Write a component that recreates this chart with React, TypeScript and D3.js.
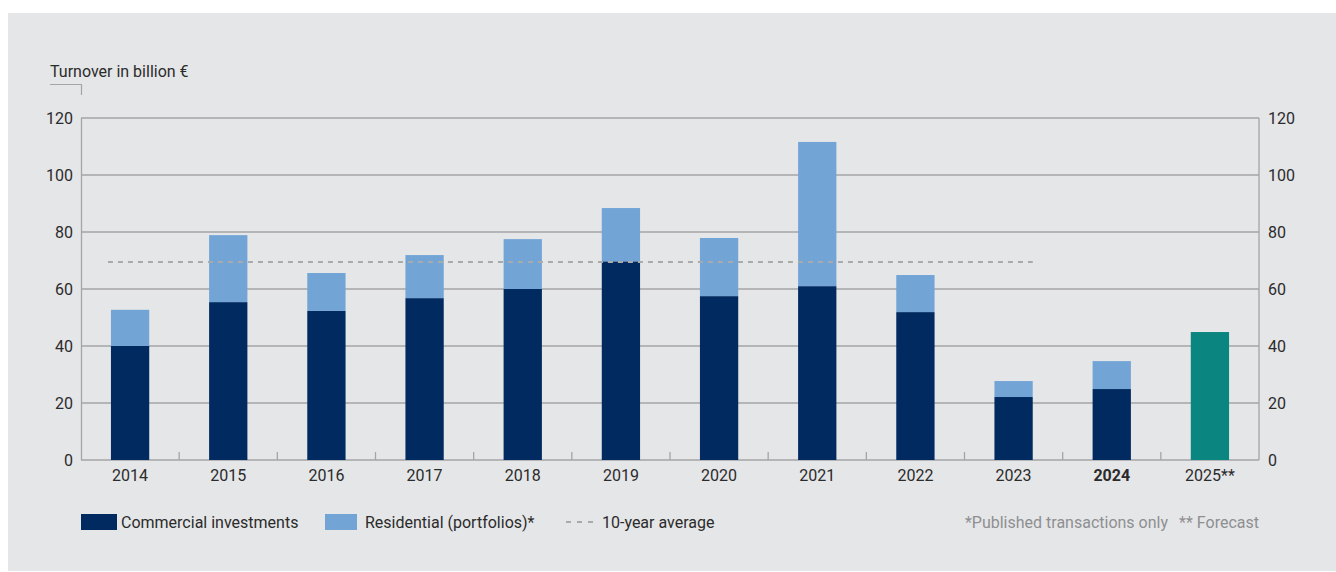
import React from "react";
import * as d3 from "d3";

const years = ["2014", "2015", "2016", "2017", "2018", "2019", "2020", "2021", "2022", "2023", "2024", "2025**"];
const commercial = [40, 55.4, 52.3, 56.8, 60, 69.7, 57.5, 61, 51.9, 22.1, 24.9, 44.9];
const residential = [12.7, 23.5, 13.3, 15.1, 17.5, 18.7, 20.4, 50.6, 13, 5.6, 9.8, 0];
const forecastYear = "2025**";
const boldYear = "2024";
const average = 69.5;
const avgFrom = "2014";
const avgTo = "2023";
const yTicks = [0, 20, 40, 60, 80, 100, 120];

const W = 1336;
const H = 572;
const M = { left: 81, right: 1259, top: 118, bottom: 460 };
const FONT = "Roboto, 'Noto Sans', sans-serif";
const NAVY = "#002a60";
const LIGHT = "#72a4d6";
const TEAL = "#0b857f";
const GRID = "#a4a5a7";
const TEXT = "#2b2b2b";
const FS = 16;

export default function App() {
  const x = d3.scaleBand<string>().domain(years).range([M.left, M.right]).paddingInner(0.61).paddingOuter(0.305);
  const xb = d3.scaleBand<string>().domain(years).range([M.left, M.right]);
  const y = d3.scaleLinear().domain([0, 120]).range([M.bottom, M.top]);
  const bw = x.bandwidth();

  return (
    <svg width={W} height={H} style={{ position: "absolute", left: 0, top: 0 }} fontFamily={FONT}>
      <rect x={8} y={13} width={W - 8} height={558} fill="#e5e6e8" />
      {/* axis title */}
      <text x={50} y={77} fontSize={FS} fill={TEXT}>Turnover in billion €</text>
      <path d={`M50,84.5H${M.left + 0.5}V95`} fill="none" stroke={GRID} strokeWidth={1.2} />
      {/* grid */}
      {yTicks.map((t) => (
        <g key={t}>
          <line x1={M.left} x2={M.right} y1={y(t)} y2={y(t)} stroke={GRID} strokeWidth={1.3} />
          <text x={73} y={y(t)} dy="0.35em" textAnchor="end" fontSize={FS} fill={TEXT}>{t}</text>
          <text x={1268} y={y(t)} dy="0.35em" textAnchor="start" fontSize={FS} fill={TEXT}>{t}</text>
        </g>
      ))}
      <line x1={M.left + 0.5} x2={M.left + 0.5} y1={M.top} y2={M.bottom} stroke={GRID} strokeWidth={1.3} />
      <line x1={M.right} x2={M.right} y1={M.top} y2={M.bottom} stroke={GRID} strokeWidth={1.3} />
      {/* bottom ticks at band boundaries */}
      {years.slice(1).map((yr) => (
        <line key={yr} x1={xb(yr)!} x2={xb(yr)!} y1={M.bottom} y2={M.bottom - 8} stroke={GRID} strokeWidth={1.3} />
      ))}
      {/* bars */}
      {years.map((yr, i) => {
        const isF = yr === forecastYear;
        const c = commercial[i];
        const r = residential[i];
        return (
          <g key={yr}>
            <rect x={x(yr)!} width={bw} y={y(c)} height={y(0) - y(c)} fill={isF ? TEAL : NAVY} />
            {r > 0 && <rect x={x(yr)!} width={bw} y={y(c + r)} height={y(c) - y(c + r)} fill={LIGHT} />}
          </g>
        );
      })}
      {/* average */}
      <line x1={x(avgFrom)! - 3} x2={x(avgTo)! + bw} y1={y(average)} y2={y(average)} stroke="#a9aaac" strokeWidth={2} strokeDasharray="5,5" />
      {/* x labels */}
      {years.map((yr) => (
        <text key={yr} x={x(yr)! + bw / 2} y={481} textAnchor="middle" fontSize={FS} fill={TEXT} fontWeight={yr === boldYear ? 700 : 400}>{yr}</text>
      ))}
      {/* legend */}
      <rect x={81} y={514} width={36} height={16} fill={NAVY} />
      <text x={121} y={528} fontSize={FS} fill={TEXT}>Commercial investments</text>
      <rect x={325} y={514} width={32} height={16} fill={LIGHT} />
      <text x={365} y={528} fontSize={FS} fill={TEXT}>Residential (portfolios)*</text>
      <line x1={566} x2={593} y1={522} y2={522} stroke="#a9aaac" strokeWidth={2} strokeDasharray="5,6" />
      <text x={602} y={528} fontSize={FS} fill={TEXT}>10-year average</text>
      <text x={1168} y={528} textAnchor="end" fontSize={FS} fill="#8e8f91">*Published transactions only</text>
      <text x={1259} y={528} textAnchor="end" fontSize={FS} fill="#8e8f91">** Forecast</text>
    </svg>
  );
}
